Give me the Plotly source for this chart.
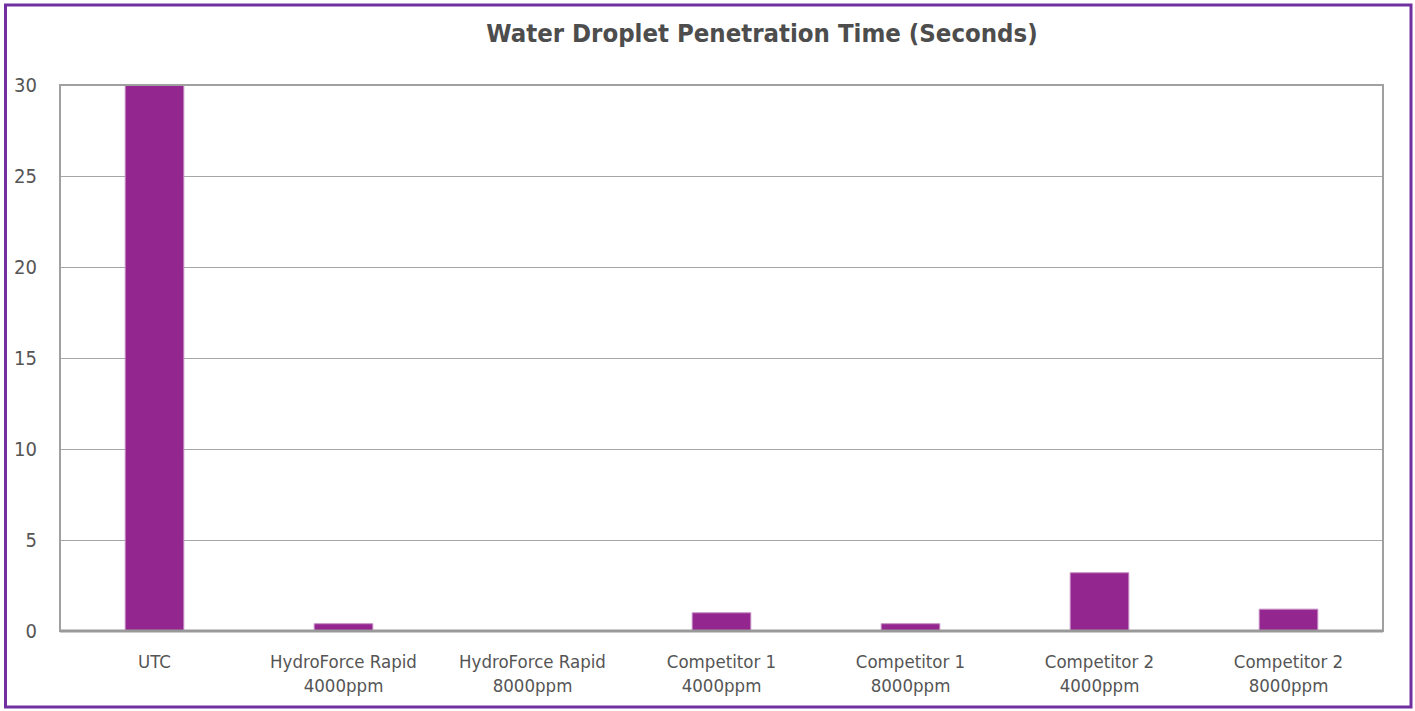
import plotly.graph_objects as go

categories = ["UTC", "HydroForce Rapid<br>4000ppm", "HydroForce Rapid<br>8000ppm",
              "Competitor 1<br>4000ppm", "Competitor 1<br>8000ppm",
              "Competitor 2<br>4000ppm", "Competitor 2<br>8000ppm"]
values = [30, 0.4, 0, 1.0, 0.4, 3.2, 1.2]
y_ticks = [0, 5, 10, 15, 20, 25, 30]

W, H = 1415, 711
L, R, T, B = 60, 32, 85, 80
pw, ph = W - L - R, H - T - B

def px_x(p):
    return (p - L) / pw

def px_y(p):
    return (H - B - p) / ph

font = "DejaVu Sans Condensed, Liberation Sans Narrow, sans-serif"

fig = go.Figure(go.Bar(
    x=categories, y=values, width=0.31,
    marker=dict(color="#93268F", line=dict(color="#C58CC3", width=1)),
))

fig.update_layout(
    width=W, height=H,
    margin=dict(l=L, r=R, t=T, b=B),
    plot_bgcolor="white", paper_bgcolor="white",
    showlegend=False,
    title=dict(text="<b>Water Droplet Penetration Time (Seconds)</b>",
               xref="paper", x=px_x(762), xanchor="center",
               y=1 - 33 / H, yanchor="middle",
               font=dict(family=font, size=25.5, color="#4D4D4D")),
    font=dict(family=font, color="#555555"),
)
fig.update_xaxes(showline=False, showgrid=False, ticks="",
                 tickfont=dict(size=18.5, color="#555555"), ticklabelstandoff=17)
fig.update_yaxes(range=[0, 30], tickvals=y_ticks, showgrid=True, gridcolor="#A6A6A6",
                 gridwidth=1, zeroline=False, showline=False, ticks="",
                 tickfont=dict(size=20, color="#555555"), ticklabelstandoff=22)

# plot frame
fig.add_shape(type="rect", xref="paper", yref="paper", x0=0, x1=1, y0=0, y1=1,
              line=dict(color="#A0A0A0", width=2), layer="above")
fig.add_shape(type="line", xref="paper", yref="paper", x0=0, x1=1, y0=0, y1=0,
              line=dict(color="#999999", width=3), layer="above")
# outer purple border
fig.add_shape(type="rect", xref="paper", yref="paper",
              x0=px_x(5.5), x1=px_x(1411), y0=px_y(707), y1=px_y(5),
              line=dict(color="#7030A0", width=3))

fig.write_html("out.html", config={"displayModeBar": False},
               post_script="document.body.style.margin='0';")
